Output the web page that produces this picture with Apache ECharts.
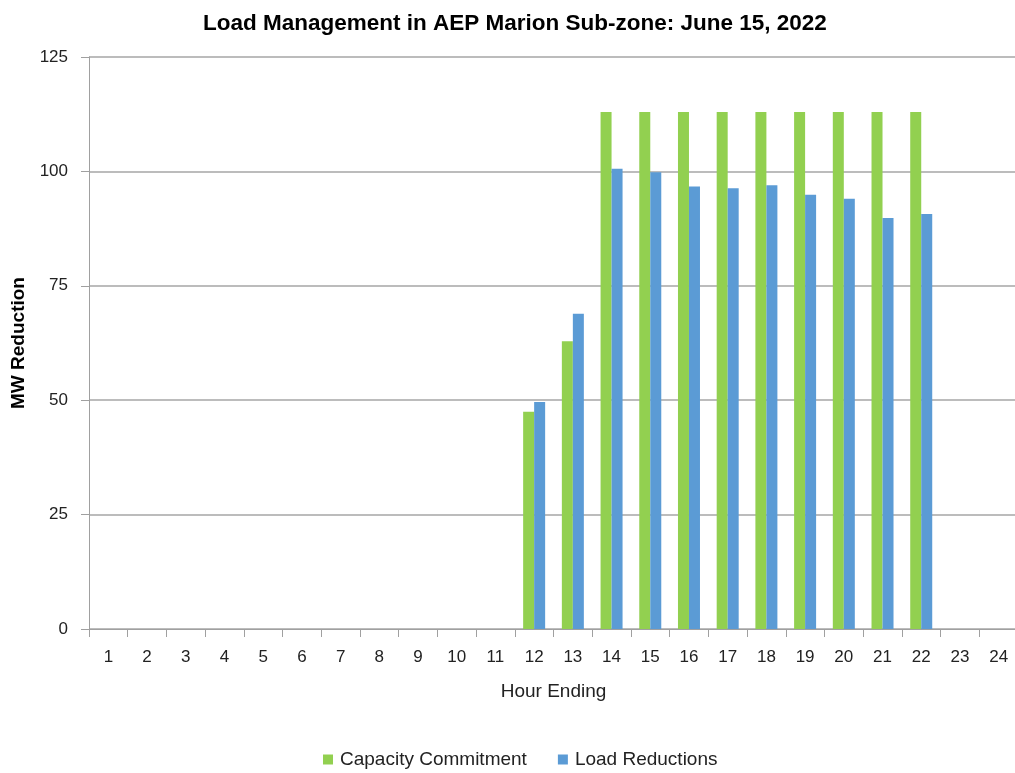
<!DOCTYPE html>
<html>
<head>
<meta charset="utf-8">
<script src="https://cdn.jsdelivr.net/npm/echarts@6/dist/echarts.min.js"></script>
<style>html,body{margin:0;padding:0;background:#fff}#c{width:1015px;height:773px}</style>
</head>
<body>
<div id="c"></div>
<script>
const hours = ['1','2','3','4','5','6','7','8','9','10','11','12','13','14','15','16','17','18','19','20','21','22','23','24'];
const capacityCommitment = [0,0,0,0,0,0,0,0,0,0,0,47.5,62.9,113,113,113,113,113,113,113,113,113,0,0];
const loadReductions = [0,0,0,0,0,0,0,0,0,0,0,49.6,68.9,100.6,99.8,96.7,96.3,97.0,94.9,94.0,89.8,90.7,0,0];
const yTicks = [0,25,50,75,100,125];

const chart = echarts.init(document.getElementById('c'));
const font = '"Liberation Sans", Arial, sans-serif';
chart.setOption({
  animation:false,
  textStyle:{fontFamily:font},
  title:{text:'Load Management in AEP Marion Sub-zone: June 15, 2022',left:198,top:7,
    textStyle:{fontFamily:font,fontSize:22.5,fontWeight:'bold',color:'#000'}},
  grid:{left:89,right:-3,top:57,bottom:144,containLabel:false,outerBoundsMode:'none'},
  legend:{bottom:-1,left:318,itemWidth:10,itemHeight:10,itemGap:31,icon:'rect',
    textStyle:{fontFamily:font,fontSize:19,color:'#222',padding:[0,0,0,2]},
    data:['Capacity Commitment','Load Reductions']},
  xAxis:{type:'category',data:hours,
    name:'Hour Ending',nameLocation:'middle',nameGap:53,
    nameTextStyle:{fontFamily:font,fontSize:19,color:'#222'},
    axisLine:{lineStyle:{color:'#a0a0a0',width:1}},
    axisTick:{show:true,alignWithLabel:false,length:8,lineStyle:{color:'#a0a0a0'}},
    axisLabel:{fontFamily:font,fontSize:17,color:'#222',margin:20}},
  yAxis:{type:'value',min:0,max:125,interval:25,
    name:'MW Reduction',nameLocation:'middle',nameGap:59,nameRotate:90,
    nameTextStyle:{fontFamily:font,fontSize:19,fontWeight:'bold',color:'#000'},
    axisLine:{show:true,lineStyle:{color:'#a0a0a0'}},
    axisTick:{show:true,length:8,lineStyle:{color:'#a0a0a0'}},
    axisLabel:{fontFamily:font,fontSize:17,color:'#222',margin:21,
      formatter:v=>yTicks.includes(v)?String(v):''},
    splitLine:{lineStyle:{color:'#a6a6a6',width:1.5}}},
  series:[
    {name:'Capacity Commitment',type:'bar',data:capacityCommitment,barWidth:11,barGap:'0%',
      itemStyle:{color:'#92D050'}},
    {name:'Load Reductions',type:'bar',data:loadReductions,barWidth:11,barGap:'0%',
      itemStyle:{color:'#5B9BD5'}}
  ]
});
</script>
</body>
</html>
